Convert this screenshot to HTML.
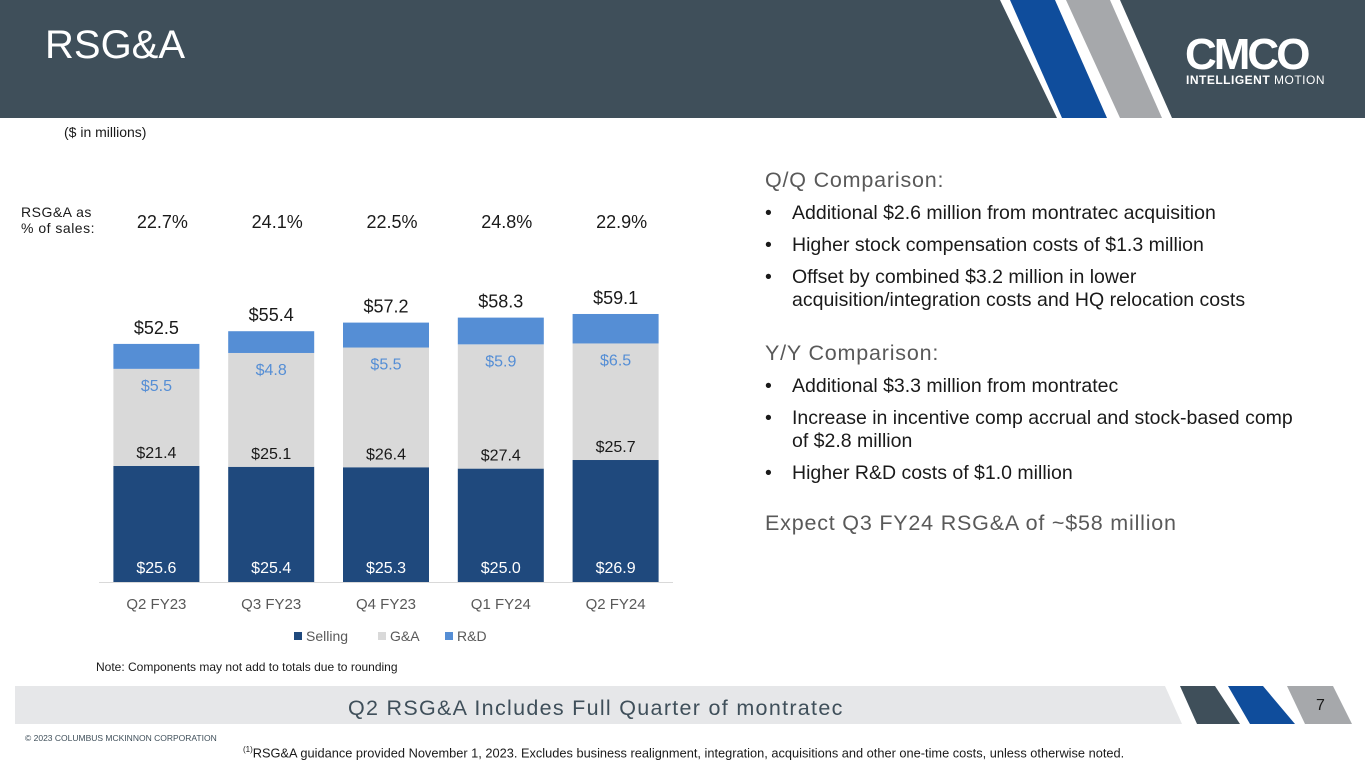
<!DOCTYPE html>
<html><head><meta charset="utf-8"><style>
body{margin:0;width:1365px;height:768px;overflow:hidden;background:#fff;font-family:"Liberation Sans",sans-serif;position:relative}
.abs{position:absolute}
.h{color:#595959;font-size:21.5px;letter-spacing:0.8px;line-height:24px}
ul{margin:0;padding:0;list-style:none}
li{position:relative;padding-left:27px;font-size:19.5px;color:#1a1a1a;line-height:23px;margin-bottom:9px}
li:before{content:"•";position:absolute;left:0px}
</style></head><body>
<svg class="abs" style="left:0;top:0" width="1365" height="768">
<rect x="0" y="0" width="1365" height="118" fill="#3f4f5a"/>
<polygon points="1000,0 1120,0 1172,118 1057,118" fill="#fff"/>
<polygon points="1010,0 1055,0 1107,118 1062,118" fill="#0f4d9c"/>
<polygon points="1066,0 1110,0 1162,118 1120,118" fill="#a6a8ab"/>
<rect x="15" y="686" width="1180" height="38" fill="#e6e7e9"/>
<polygon points="1165,686 1180,686 1197,724 1182,724" fill="#fff"/>
<polygon points="1180,686 1215,686 1240,724 1197,724" fill="#3f4f5a"/>
<polygon points="1228,686 1263,686 1295,724 1250,724" fill="#0f4d9c"/>
<polygon points="1287,686 1333,686 1352,724 1305,724" fill="#a6a8ab"/>
</svg>
<div class="abs" style="left:45px;top:23px;font-size:40px;color:#fff">RSG&amp;A</div>
<div class="abs" style="left:1185px;top:30px;font-size:44px;font-weight:bold;color:#fff;letter-spacing:-3px">CMCO</div>
<div class="abs" style="left:1186px;top:73px;font-size:12px;color:#fff;letter-spacing:0.5px"><b>INTELLIGENT</b> MOTION</div>
<div class="abs" style="left:64px;top:124px;font-size:14px;color:#1a1a1a">($ in millions)</div>
<div class="abs" style="left:21px;top:204px;font-size:14px;color:#1a1a1a;line-height:16px;letter-spacing:0.5px">RSG&amp;A as<br>% of sales:</div>
<svg id="chart" class="abs" style="left:0;top:0" width="720" height="680"></svg>
<div class="abs" style="left:96px;top:660px;font-size:12px;color:#1a1a1a">Note: Components may not add to totals due to rounding</div>
<div class="abs" style="left:765px;top:168px;width:600px">
<div class="h" style="margin-bottom:10px">Q/Q Comparison:</div>
<ul><li>Additional $2.6 million from montratec acquisition</li><li>Higher stock compensation costs of $1.3 million</li><li>Offset by combined $3.2 million in lower<br>acquisition/integration costs and HQ relocation costs</li></ul>
<div class="h" style="margin-top:29px;margin-bottom:10px">Y/Y Comparison:</div>
<ul><li>Additional $3.3 million from montratec</li><li>Increase in incentive comp accrual and stock-based comp<br>of $2.8 million</li><li>Higher R&amp;D costs of $1.0 million</li></ul>
<div class="h" style="margin-top:26px">Expect Q3 FY24 RSG&amp;A of ~$58 million</div>
</div>
<div class="abs" style="left:348px;top:696px;font-size:21.5px;color:#3f4f5a;letter-spacing:1.3px">Q2 RSG&amp;A Includes Full Quarter of montratec</div>
<div class="abs" style="left:1316px;top:697px;font-size:16px;color:#1a1a1a">7</div>
<div class="abs" style="left:25px;top:733px;font-size:8.5px;color:#3f4f5a">© 2023 COLUMBUS MCKINNON CORPORATION</div>
<div class="abs" style="left:243px;top:745px;font-size:12.8px;color:#1a1a1a"><sup style="font-size:8px">(1)</sup>RSG&amp;A guidance provided November 1, 2023. Excludes business realignment, integration, acquisitions and other one-time costs, unless otherwise noted.</div>
<script>
const categories=["Q2 FY23","Q3 FY23","Q4 FY23","Q1 FY24","Q2 FY24"];
const selling=[25.6,25.4,25.3,25.0,26.9];
const ga=[21.4,25.1,26.4,27.4,25.7];
const rd=[5.5,4.8,5.5,5.9,6.5];
const totals=[52.5,55.4,57.2,58.3,59.1];
const pctSales=["22.7%","24.1%","22.5%","24.8%","22.9%"];
const svg=document.getElementById('chart');
const NS="http://www.w3.org/2000/svg";
const base=582,k=4.535,x0=99,step=114.8,bw=86;
const xC=i=>x0+step*i+step/2;
const y=v=>base-v*k;
function el(t,a,txt){const e=document.createElementNS(NS,t);for(const n in a)e.setAttribute(n,a[n]);if(txt!==undefined)e.textContent=txt;svg.appendChild(e);return e;}
const ax=el('line',{x1:x0,x2:x0+step*5,y1:base+0.5,y2:base+0.5,stroke:'#d9d9d9'});


categories.forEach((c,i)=>{
  const cx=xC(i);
  const s=selling[i],g=ga[i],r=rd[i];
  const b1=el('rect',{x:cx-bw/2,y:y(s),width:bw,height:s*k,fill:'#1f497d'});
  
  
  const b2=el('rect',{x:cx-bw/2,y:y(s+g),width:bw,height:g*k,fill:'#d9d9d9'});
  
  
  const b3=el('rect',{x:cx-bw/2,y:y(s+g+r),width:bw,height:r*k,fill:'#558ed5'});
  
  
  const f={'font-family':'Liberation Sans','font-size':16,'text-anchor':'middle'};
  const t1=el('text',Object.assign({x:cx,y:base-9,fill:'#fff'},f),'$'+s.toFixed(1));
  
  
  const t2=el('text',Object.assign({x:cx,y:y(s)-8,fill:'#1a1a1a'},f),'$'+g.toFixed(1));
  
  
  const t3=el('text',Object.assign({x:cx,y:y(s+g)+22,fill:'#558ed5'},f),'$'+r.toFixed(1));
  
  
  const t4=el('text',Object.assign({x:cx,y:y(totals[i])-10,fill:'#1a1a1a','font-size':18},{'font-family':'Liberation Sans','text-anchor':'middle'}),'$'+totals[i].toFixed(1));
  
  
  const t5=el('text',{x:cx,y:609,fill:'#595959','font-family':'Liberation Sans','font-size':15,'text-anchor':'middle'},c);
  
  
  const t6=el('text',{x:cx+6,y:228,fill:'#1a1a1a','font-family':'Liberation Sans','font-size':18,'text-anchor':'middle'},pctSales[i]);
  
  
});
const leg=[["Selling","#1f497d",294],["G&A","#d9d9d9",378],["R&D","#558ed5",445]];
leg.forEach(l=>{
  const r=el('rect',{x:l[2],y:632,width:8,height:8,fill:l[1]});
  
  
  const t=el('text',{x:l[2]+12,y:641,fill:'#595959','font-family':'Liberation Sans','font-size':14},l[0]);
  
  
});
</script>
</body></html>
